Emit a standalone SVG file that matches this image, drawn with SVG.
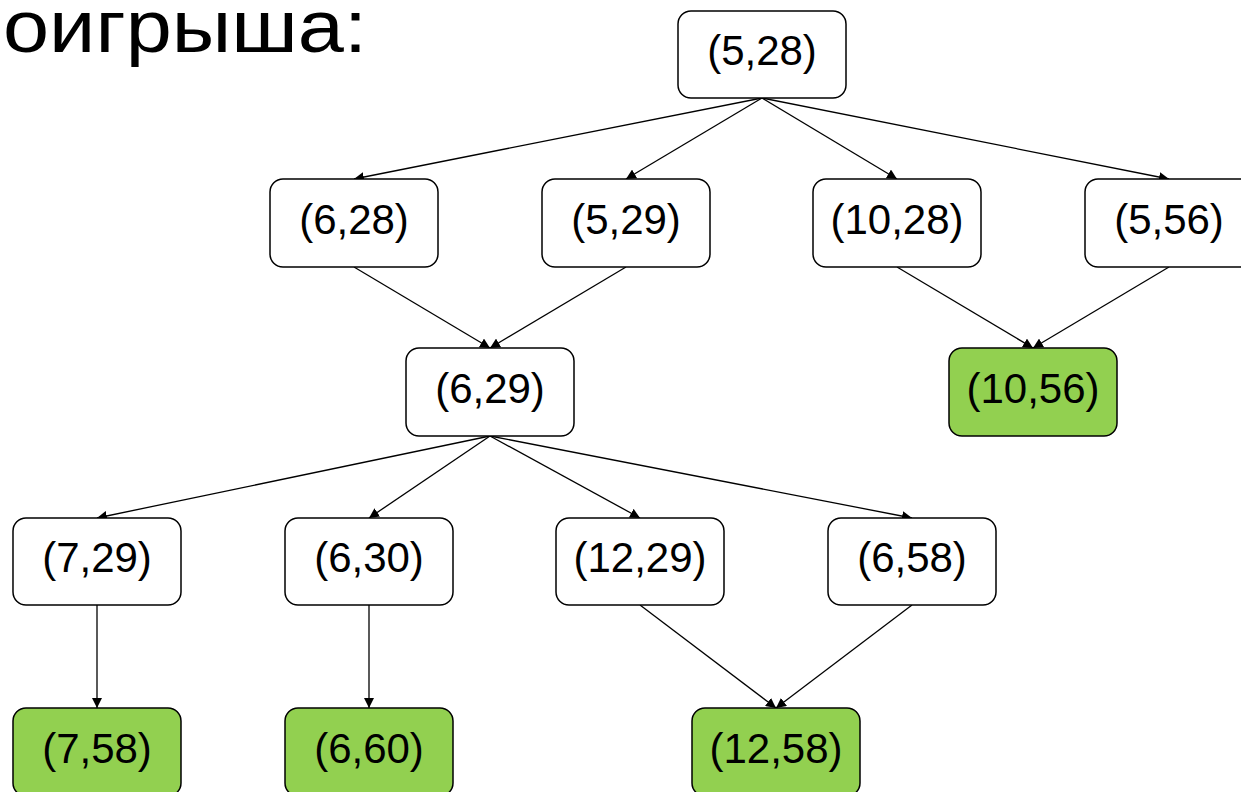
<svg xmlns="http://www.w3.org/2000/svg" width="1241" height="792" viewBox="0 0 1241 792">
  <defs>
    <marker id="arrow" viewBox="0 0 10 10" refX="10" refY="5" markerWidth="10" markerHeight="10" markerUnits="userSpaceOnUse" orient="auto">
      <path d="M0,0 L10,5 L0,10 z" fill="#000"/>
    </marker>
    <style>
      .node rect { fill: #fff; stroke: #000; stroke-width: 1.5; }
      .node.goal rect { fill: #92D050; }
      .node text { font-family: "Liberation Sans", Arial, sans-serif; font-size: 42px; fill: #000; text-anchor: middle; }
      .edges line { stroke: #000; stroke-width: 1.3; marker-end: url(#arrow); }
      .title { font-family: "Liberation Sans", Arial, sans-serif; font-size: 74px; fill: #000; }
    </style>
  </defs>
  <rect width="1241" height="792" fill="#fff"/>

  <text class="title" x="3" y="52" textLength="364" lengthAdjust="spacingAndGlyphs">оигрыша:</text>

  <g class="edges">
    <line x1="762" y1="98" x2="354" y2="179"/>
    <line x1="762" y1="98" x2="626" y2="179"/>
    <line x1="762" y1="98" x2="897" y2="179"/>
    <line x1="762" y1="98" x2="1169" y2="179"/>
    <line x1="354" y1="267" x2="490" y2="348"/>
    <line x1="626" y1="267" x2="490" y2="348"/>
    <line x1="897" y1="267" x2="1033" y2="348"/>
    <line x1="1169" y1="267" x2="1033" y2="348"/>
    <line x1="490" y1="436" x2="97" y2="518"/>
    <line x1="490" y1="436" x2="369" y2="518"/>
    <line x1="490" y1="436" x2="640" y2="518"/>
    <line x1="490" y1="436" x2="912" y2="518"/>
    <line x1="97" y1="605" x2="97" y2="708"/>
    <line x1="369" y1="605" x2="369" y2="708"/>
    <line x1="640" y1="605" x2="776" y2="708"/>
    <line x1="912" y1="605" x2="776" y2="708"/>
  </g>

  <g id="n-5-28" class="node"><rect x="678" y="11" width="168" height="87" rx="13"/><text x="762" y="65">(5,28)</text></g>
  <g id="n-6-28" class="node"><rect x="270" y="179" width="168" height="88" rx="13"/><text x="354" y="234">(6,28)</text></g>
  <g id="n-5-29" class="node"><rect x="542" y="179" width="168" height="88" rx="13"/><text x="626" y="234">(5,29)</text></g>
  <g id="n-10-28" class="node"><rect x="813" y="179" width="168" height="88" rx="13"/><text x="897" y="234">(10,28)</text></g>
  <g id="n-5-56" class="node"><rect x="1085" y="179" width="168" height="88" rx="13"/><text x="1169" y="234">(5,56)</text></g>
  <g id="n-6-29" class="node"><rect x="406" y="348" width="168" height="88" rx="13"/><text x="490" y="403">(6,29)</text></g>
  <g id="n-10-56" class="node goal"><rect x="949" y="348" width="168" height="88" rx="13"/><text x="1033" y="403">(10,56)</text></g>
  <g id="n-7-29" class="node"><rect x="13" y="518" width="168" height="87" rx="13"/><text x="97" y="572">(7,29)</text></g>
  <g id="n-6-30" class="node"><rect x="285" y="518" width="168" height="87" rx="13"/><text x="369" y="572">(6,30)</text></g>
  <g id="n-12-29" class="node"><rect x="556" y="518" width="168" height="87" rx="13"/><text x="640" y="572">(12,29)</text></g>
  <g id="n-6-58" class="node"><rect x="828" y="518" width="168" height="87" rx="13"/><text x="912" y="572">(6,58)</text></g>
  <g id="n-7-58" class="node goal"><rect x="13" y="708" width="168" height="88" rx="13"/><text x="97" y="763">(7,58)</text></g>
  <g id="n-6-60" class="node goal"><rect x="285" y="708" width="168" height="88" rx="13"/><text x="369" y="763">(6,60)</text></g>
  <g id="n-12-58" class="node goal"><rect x="692" y="708" width="168" height="88" rx="13"/><text x="776" y="763">(12,58)</text></g>
</svg>
